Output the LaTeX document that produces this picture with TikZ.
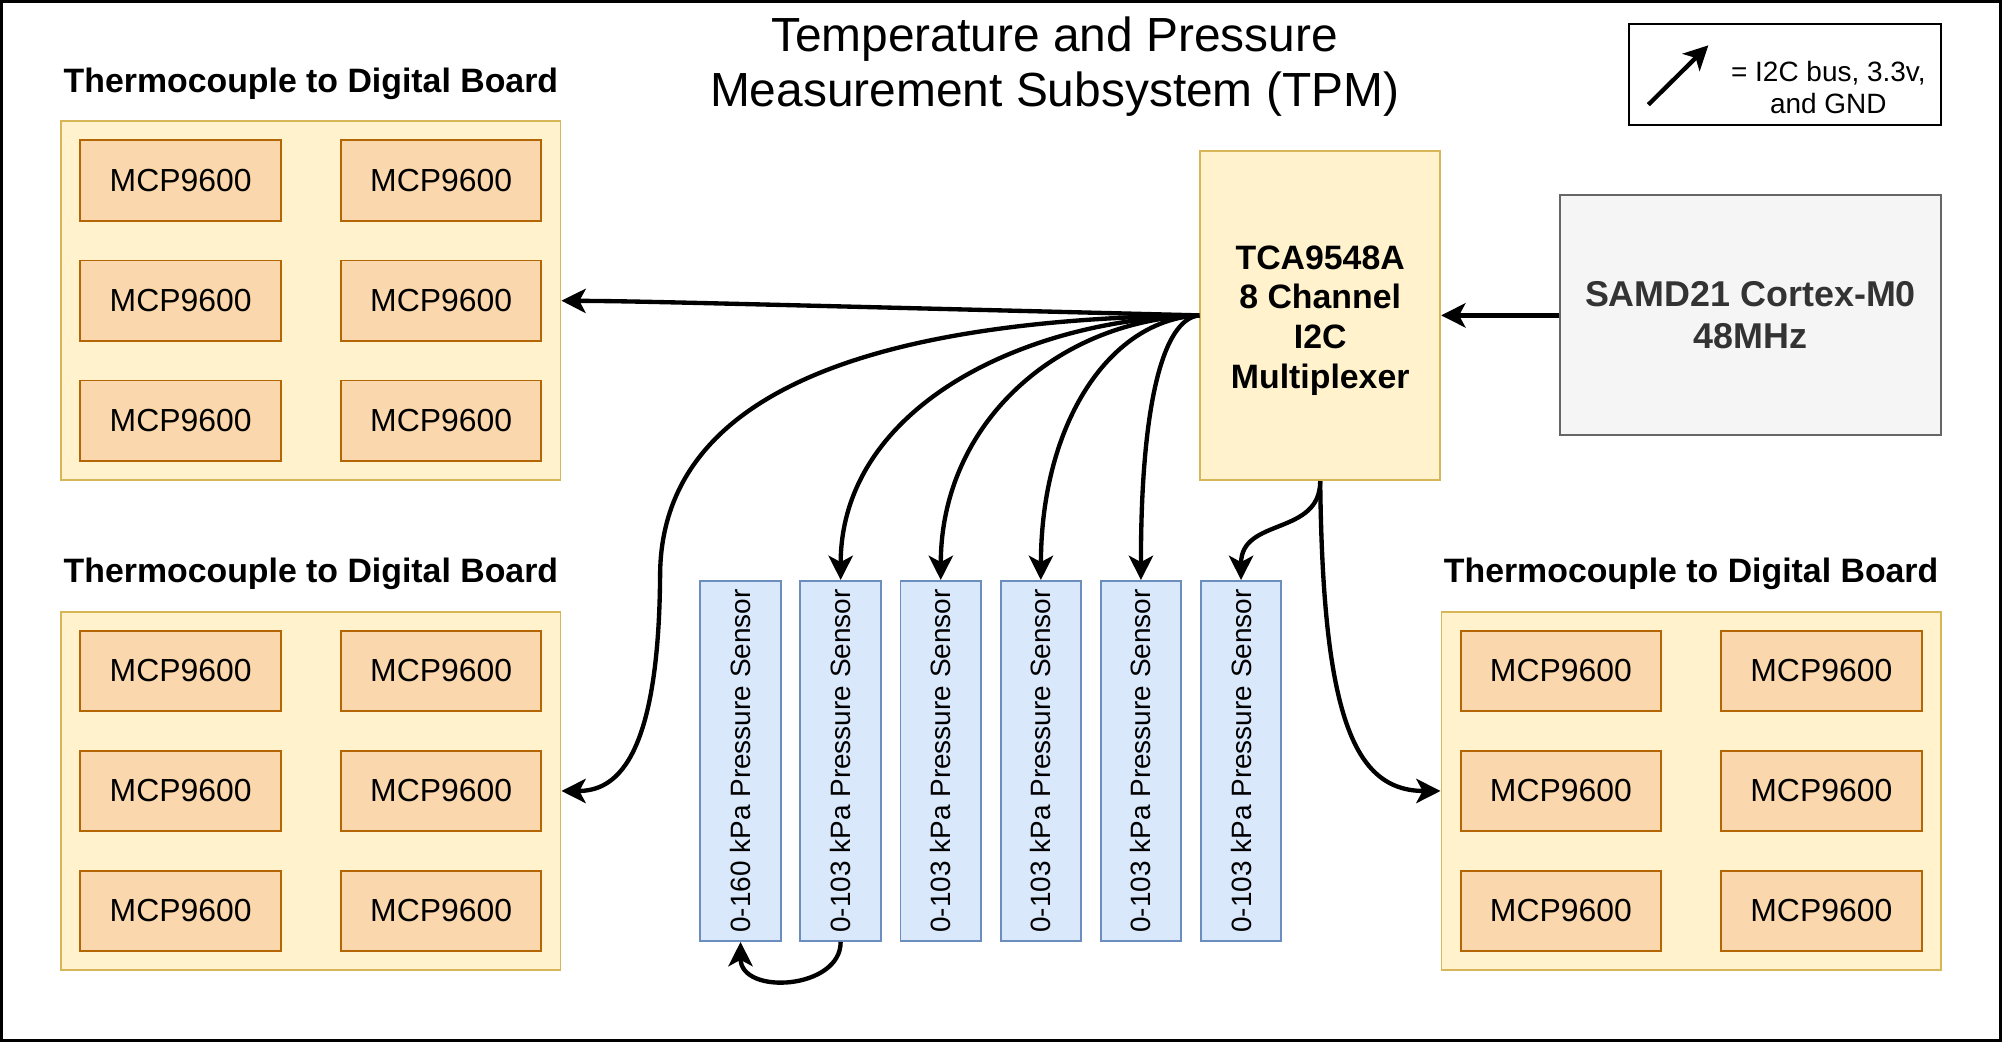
\documentclass[tikz,border=0pt]{standalone}
\usepackage{fontspec}
\setmainfont{Liberation Sans}
\usepackage{graphicx}
\usetikzlibrary{arrows.meta}

\definecolor{boardfill}{HTML}{FFF2CC}
\definecolor{boardline}{HTML}{D6B656}
\definecolor{chipfill}{HTML}{FAD7AC}
\definecolor{chipline}{HTML}{B46504}
\definecolor{sensorfill}{HTML}{DAE8FC}
\definecolor{sensorline}{HTML}{6C8EBF}
\definecolor{mcufill}{HTML}{F5F5F5}
\definecolor{mculine}{HTML}{666666}
\definecolor{mcutext}{HTML}{333333}

\tikzstyle{board} = [rectangle, minimum width=391pt, minimum height=281pt, draw=boardline, fill=boardfill, line width=1.5pt]
\tikzstyle{chip} = [rectangle, minimum width=157pt, minimum height=63pt, text centered, draw=chipline, fill=chipfill, line width=1.5pt, font=\fontsize{25pt}{30pt}\selectfont]
\tikzstyle{sensor} = [rectangle, minimum width=63pt, minimum height=282pt, inner sep=1pt, draw=sensorline, fill=sensorfill, line width=1.5pt, font=\fontsize{21.9pt}{26pt}\selectfont]
\tikzstyle{boardtitle} = [font=\fontsize{26.5pt}{32pt}\selectfont\bfseries]
\tikzstyle{muxbox} = [rectangle, minimum width=188pt, minimum height=258pt, align=center, draw=boardline, fill=boardfill, line width=1.5pt, font=\fontsize{26.5pt}{31pt}\selectfont\bfseries]
\tikzstyle{mcu} = [rectangle, minimum width=298pt, minimum height=188pt, align=center, draw=mculine, fill=mcufill, text=mcutext, line width=1.5pt, font=\fontsize{28.1pt}{32.5pt}\selectfont\bfseries]
\tikzstyle{arrow} = [-{Stealth[length=19pt, width=19pt, inset=5pt]}, line width=3.4pt]

\begin{document}
\begin{tikzpicture}[x=1pt, y=-1pt, node distance=94pt]
	\useasboundingbox (0,0) rectangle (1568,816);
	\draw [line width=2.5pt] (1.25,1.25) rectangle (1566.75,814.75);

	\node (title) [align=center, font=\fontsize{37.5pt}{43pt}\selectfont] at (826,52) {Temperature and Pressure\\Measurement Subsystem (TPM)};

	% legend
	\node (legend) [rectangle, minimum width=244pt, minimum height=79pt, draw, line width=1.5pt] at (1398,58.5) {};
	\node (legendtext) [align=center, font=\fontsize{21.9pt}{25pt}\selectfont] at (1432,68.5) {= I2C bus, 3.3v,\\and GND};
	\coordinate (legtail) at (1291,82);
	\coordinate (leghead) at (1338,35.5);

	% controller and multiplexer
	\node (mux) [muxbox] at (1034,247) {};
	\node (muxtext) [align=center, font=\fontsize{26.5pt}{31pt}\selectfont\bfseries] at (1034,251) {TCA9548A\\8 Channel\\I2C\\Multiplexer};
	\node (samd) [mcu] at (1371,247) {SAMD21 Cortex-M0\\48MHz};

	% thermocouple boards
	\node (tl) [board] at (243.5,235.5) {};
	\node (tltitle) [boardtitle, above of=tl, yshift=76pt] {Thermocouple to Digital Board};
	\node (tl1) [chip, above of=tl, xshift=-102pt] {MCP9600};
	\node (tl2) [chip, right of=tl1, xshift=110pt] {MCP9600};
	\node (tl3) [chip, below of=tl1] {MCP9600};
	\node (tl4) [chip, right of=tl3, xshift=110pt] {MCP9600};
	\node (tl5) [chip, below of=tl3] {MCP9600};
	\node (tl6) [chip, right of=tl5, xshift=110pt] {MCP9600};

	\node (bl) [board] at (243.5,619.5) {};
	\node (bltitle) [boardtitle, above of=bl, yshift=76pt] {Thermocouple to Digital Board};
	\node (bl1) [chip, above of=bl, xshift=-102pt] {MCP9600};
	\node (bl2) [chip, right of=bl1, xshift=110pt] {MCP9600};
	\node (bl3) [chip, below of=bl1] {MCP9600};
	\node (bl4) [chip, right of=bl3, xshift=110pt] {MCP9600};
	\node (bl5) [chip, below of=bl3] {MCP9600};
	\node (bl6) [chip, right of=bl5, xshift=110pt] {MCP9600};

	\node (br) [board] at (1324.5,619.5) {};
	\node (brtitle) [boardtitle, above of=br, yshift=76pt] {Thermocouple to Digital Board};
	\node (br1) [chip, above of=br, xshift=-102pt] {MCP9600};
	\node (br2) [chip, right of=br1, xshift=110pt] {MCP9600};
	\node (br3) [chip, below of=br1] {MCP9600};
	\node (br4) [chip, right of=br3, xshift=110pt] {MCP9600};
	\node (br5) [chip, below of=br3] {MCP9600};
	\node (br6) [chip, right of=br5, xshift=110pt] {MCP9600};

	% pressure sensors
	\node (s1) [sensor] at (580,596) {\rotatebox{90}{0-160 kPa Pressure Sensor}};
	\node (s2) [sensor, right of=s1, xshift=-15.6pt] {\rotatebox{90}{0-103 kPa Pressure Sensor}};
	\node (s3) [sensor, right of=s2, xshift=-15.6pt] {\rotatebox{90}{0-103 kPa Pressure Sensor}};
	\node (s4) [sensor, right of=s3, xshift=-15.6pt] {\rotatebox{90}{0-103 kPa Pressure Sensor}};
	\node (s5) [sensor, right of=s4, xshift=-15.6pt] {\rotatebox{90}{0-103 kPa Pressure Sensor}};
	\node (s6) [sensor, right of=s5, xshift=-15.6pt] {\rotatebox{90}{0-103 kPa Pressure Sensor}};

	\draw [arrow] (legtail) -- (leghead);
	\draw [arrow] (samd) -- (mux);
	\draw [arrow] (mux.west) .. controls (500,236) .. (tl.east);
	\draw [arrow] (mux.west) .. controls (700,250) and (518,300) .. (517,450) .. controls (516,600) and (480,619.5) .. (bl.east);
	\draw [arrow] (mux.west) .. controls (800,250) and (658.5,320) .. (s2.north);
	\draw [arrow] (mux.west) .. controls (830,250) and (737,330) .. (s3.north);
	\draw [arrow] (mux.west) .. controls (870,250) and (815.5,330) .. (s4.north);
	\draw [arrow] (mux.west) .. controls (910,250) and (893.5,320) .. (s5.north);
	\draw [arrow] (mux.south) .. controls (1034,420) and (972,405) .. (s6.north);
	\draw [arrow] (mux.south) .. controls (1036,560) and (1060,619.5) .. (br.west);
	\draw [arrow] (s2.south) .. controls (658.5,775) and (580,780) .. (s1.south);
\end{tikzpicture}
\end{document}
